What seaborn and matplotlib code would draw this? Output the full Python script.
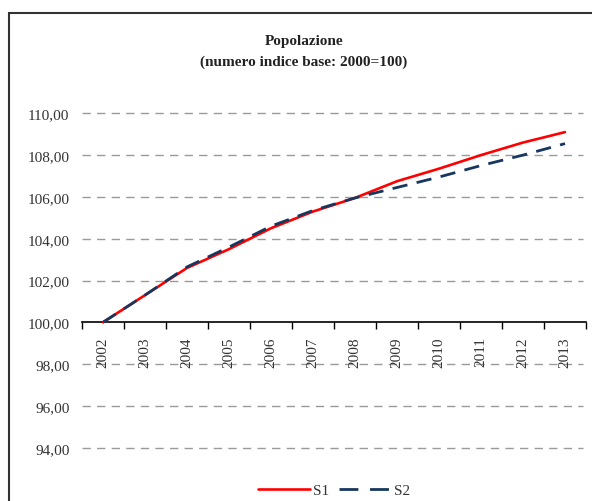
import matplotlib
matplotlib.use("Agg")
import matplotlib.pyplot as plt
from matplotlib.patches import Rectangle
from matplotlib.lines import Line2D
import numpy as np
import pandas as pd
import seaborn as sns

# Population index (base 2000 = 100)
years = ["2002", "2003", "2004", "2005", "2006", "2007",
         "2008", "2009", "2010", "2011", "2012", "2013"]
s1 = [100.0, 101.3, 102.6, 103.5, 104.5, 105.3, 105.95, 106.75, 107.35, 108.0, 108.6, 109.1]
s2 = [100.0, 101.3, 102.65, 103.6, 104.6, 105.35, 105.95, 106.45, 106.95, 107.5, 108.0, 108.55]
y_ticks = [94, 96, 98, 102, 104, 106, 108, 110]
y_labels_all = [94, 96, 98, 100, 102, 104, 106, 108, 110]

sns.set_theme(style="white")
plt.rcParams["font.family"] = ["Liberation Serif", "DejaVu Serif"]

W, H = 592, 502
fig = plt.figure(figsize=(W / 100, H / 100), dpi=100)

# chart frame
fig.patches.append(Rectangle((8.5 / W, -0.1), 1.2, (H - 13.5) / H + 0.1,
                             transform=fig.transFigure, fill=False,
                             edgecolor="#333333", lw=1.5))

ax_left, ax_right = 82 / W, 586 / W
y100_px, px_per_unit = 323.3, 20.9
ymin, ymax = 93, 110.3
bottom_px = y100_px + (100 - ymin) * px_per_unit
top_px = y100_px - (ymax - 100) * px_per_unit
ax = fig.add_axes([ax_left, 1 - bottom_px / H, ax_right - ax_left, (bottom_px - top_px) / H])

df = pd.DataFrame({"pos": np.arange(len(years)), "S1": s1, "S2": s2})

# dashed horizontal gridlines
for v in y_ticks:
    ax.axhline(v, color="#9a9a9a", lw=1.0, linestyle=(0, (6, 4.5)), zorder=0, xmax=583 / 586)

sns.lineplot(data=df, x="pos", y="S1", ax=ax, color="#FF0000", lw=1.9, zorder=3)
sns.lineplot(data=df, x="pos", y="S2", ax=ax, color="#17375E", lw=2.0,
             linestyle=(0, (5.5, 3.4)), zorder=4)

ax.set_xlim(-0.5, len(years) - 0.5)
ax.set_ylim(ymin, ymax)
ax.set_xlabel("")
ax.set_ylabel("")

for side in ["top", "right", "left"]:
    ax.spines[side].set_visible(False)
ax.spines["bottom"].set_position(("data", 100))
ax.spines["bottom"].set_color("black")
ax.spines["bottom"].set_linewidth(1.2)

ax.set_yticks(y_labels_all)
ax.set_yticklabels([f"{v:.2f}".replace(".", ",") for v in y_labels_all])
ax.tick_params(axis="y", length=0, pad=9, labelsize=11, labelcolor="#333333")

ax.set_xticks(np.arange(len(years)))
ax.set_xticklabels(years, rotation=90, va="top", ha="center")
ax.set_xticks(np.arange(len(years) + 1) - 0.5, minor=True)
ax.tick_params(axis="x", which="major", length=0, pad=10, labelsize=11, labelcolor="#333333")
ax.tick_params(axis="x", which="minor", length=5, width=1.0, color="black", direction="out", bottom=True)

fig.text(304 / W, 1 - 42 / H, "Popolazione", ha="center", va="center",
         fontsize=11, fontweight="bold", color="#222222")
fig.text(304 / W, 1 - 62 / H, "(numero indice base: 2000=100)", ha="center", va="center",
         fontsize=11, fontweight="bold", color="#222222")

handles = [Line2D([], [], color="#FF0000", lw=1.9),
           Line2D([], [], color="#17375E", lw=2.0, linestyle=(0, (6.8, 4.2)))]
fig.legend(handles, ["S1", "S2"], loc="center", bbox_to_anchor=(334 / W, 1 - 491 / H),
           ncol=2, frameon=False, fontsize=11, handlelength=3.4, handletextpad=0.15,
           columnspacing=0.7, labelcolor="#333333")

fig.savefig("out.png", dpi=100)
